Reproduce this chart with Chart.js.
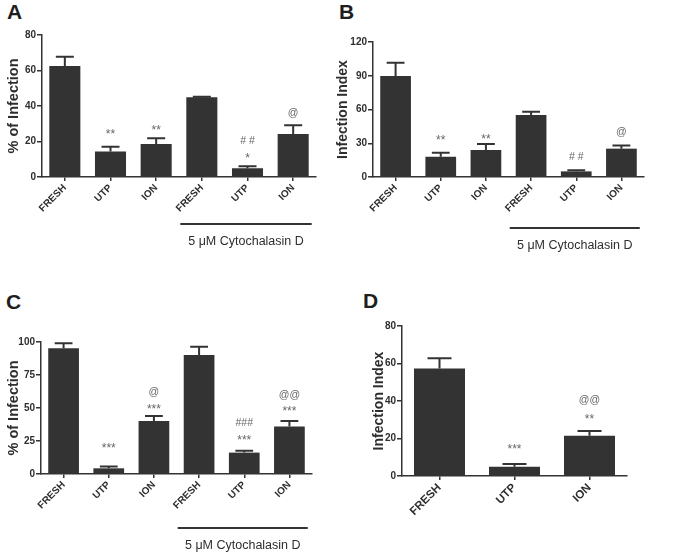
<!DOCTYPE html>
<html>
<head>
<meta charset="utf-8">
<title>Infection panels</title>
<script src="https://cdn.jsdelivr.net/npm/chart.js@4.4.1/dist/chart.umd.min.js"></script>
<style>
    body { margin: 0; width: 680px; height: 553px; position: relative; overflow: hidden; background: #fff; font-family: "Liberation Sans", Arial, sans-serif; }
    canvas { position: absolute; }
    .panel-letter { position: absolute; font-size: 21px; font-weight: bold; line-height: 21px; color: #1e1e1e; }
</style>
</head>
<body>
<div class="panel-letter" style="left:7px;top:1px">A</div>
<div class="panel-letter" style="left:339px;top:1px">B</div>
<div class="panel-letter" style="left:6px;top:291px">C</div>
<div class="panel-letter" style="left:363px;top:290px">D</div>

<canvas id="chart-a" width="335" height="235" style="left:0;top:20px"></canvas>
<canvas id="chart-b" width="350" height="235" style="left:330px;top:20px"></canvas>
<canvas id="chart-c" width="335" height="253" style="left:0;top:300px"></canvas>
<canvas id="chart-d" width="340" height="253" style="left:340px;top:300px"></canvas>

<script>
// categories
var groupsCyto = ['FRESH', 'UTP', 'ION', 'FRESH', 'UTP', 'ION'];
var groupsPlain = ['FRESH', 'UTP', 'ION'];

// A - % of infection (mean, mean + SEM)
var pctA = [62.5, 14.3, 18.6, 44.9, 4.9, 24.2];
var pctTopA = [67.8, 17.1, 21.8, 45.2, 6.0, 29.1];
var ticksA = [0, 20, 40, 60, 80];

// B - infection index
var idxB = [89.8, 18, 24, 55.1, 5, 25.2];
var idxTopB = [101.6, 21.6, 29.3, 58, 5.9, 28.1];
var ticksB = [0, 30, 60, 90, 120];

// C - % of infection
var pctC = [95.2, 4.3, 40.2, 90.2, 16.2, 35.9];
var pctTopC = [99, 5.6, 43.9, 96.4, 17.7, 40.2];
var ticksC = [0, 25, 50, 75, 100];

// D - infection index
var idxD = [57.4, 5, 21.5];
var idxTopD = [62.8, 6.4, 24];
var ticksD = [0, 20, 40, 60, 80];

// significance marks: [text, height in axis units] for each bar
var marksA = [[], [['**', 25.9]], [['**', 28.2]], [], [['# #', 20.3], ['*', 12.4]], [['@', 36.1]]];
var marksB = [[], [['**', 35.6]], [['**', 35.8]], [], [['# #', 17.8]], [['@', 40]]];
var marksC = [[], [['***', 22]], [['@', 62], ['***', 51.5]], [], [['###', 38.6], ['***', 28]], [['@@', 60], ['***', 50]]];
var marksD = [[], [['***', 16]], [['@@', 40.5], ['**', 32]]];

var bracketText = '5 \u03bcM Cytochalasin D';

(function() {
    'use strict';

    var BAR_COLOR = '#333333';
    var AXIS_COLOR = '#333333';
    var TEXT_COLOR = '#2e2e2e';
    var MARK_COLOR = '#666666';
    var FONT = '"Liberation Sans", Arial, sans-serif';

    Chart.defaults.font.family = FONT;

    /**
     * Error bars, significance marks and the treatment bracket
     */
    function makeOverlay(p) {
        return {
            id: 'overlay-' + p.id,
            afterDatasetsDraw: function(chart) {
                var ctx = chart.ctx;
                var bars = chart.getDatasetMeta(0).data;
                var yScale = chart.scales.y;

                ctx.save();
                ctx.strokeStyle = BAR_COLOR;
                ctx.lineWidth = 2;
                bars.forEach(function(bar, i) {
                    var yTop = yScale.getPixelForValue(p.tops[i]);
                    var half = Math.min(bar.width * 0.58, 24) / 2;
                    ctx.beginPath();
                    ctx.moveTo(bar.x, bar.y);
                    ctx.lineTo(bar.x, yTop);
                    ctx.moveTo(bar.x - half, yTop);
                    ctx.lineTo(bar.x + half, yTop);
                    ctx.stroke();
                });

                // significance marks
                ctx.fillStyle = MARK_COLOR;
                ctx.textAlign = 'center';
                ctx.textBaseline = 'middle';
                bars.forEach(function(bar, i) {
                    (p.marks[i] || []).forEach(function(m) {
                        var y = yScale.getPixelForValue(m[1]);
                        var star = m[0].charAt(0) === '*';
                        var size = star ? 12 : 10.5;
                        ctx.font = size + 'px ' + FONT;
                        ctx.fillText(m[0], bar.x, y + (star ? size * 0.28 : 0));
                    });
                });

                // bracket under the cytochalasin groups
                if (p.bracketY) {
                    var first = bars[3], last = bars[5];
                    var x0 = first.x - first.width / 2 - 6;
                    var x1 = last.x + last.width / 2 + 3;
                    ctx.strokeStyle = AXIS_COLOR;
                    ctx.lineWidth = 2;
                    ctx.beginPath();
                    ctx.moveTo(x0, p.bracketY);
                    ctx.lineTo(x1, p.bracketY);
                    ctx.stroke();

                    ctx.fillStyle = TEXT_COLOR;
                    ctx.font = '12.5px ' + FONT;
                    ctx.fillText(bracketText, (x0 + x1) / 2, p.bracketY + 18);
                }
                ctx.restore();
            }
        };
    }

    /**
     * Build one panel
     */
    function buildPanel(p) {
        var canvas = document.getElementById(p.id);
        var W = canvas.width, H = canvas.height;
        var padLeft = p.titleCenter - p.titleSize * 0.6;

        new Chart(canvas, {
            type: 'bar',
            data: {
                labels: p.labels,
                datasets: [{
                    data: p.values,
                    backgroundColor: BAR_COLOR,
                    borderWidth: 0,
                    barPercentage: 0.68,
                    categoryPercentage: 1
                }]
            },
            options: {
                responsive: false,
                animation: false,
                layout: {
                    padding: { left: padLeft, top: p.area.top, right: W - p.area.right, bottom: 0 }
                },
                plugins: {
                    legend: { display: false },
                    tooltip: { enabled: false }
                },
                scales: {
                    x: {
                        offset: true,
                        grid: { offset: false, drawOnChartArea: false, tickLength: 4, color: AXIS_COLOR, lineWidth: 1.5 },
                        border: { color: AXIS_COLOR, width: 1.5 },
                        ticks: {
                            minRotation: 45,
                            maxRotation: 45,
                            padding: 1,
                            color: TEXT_COLOR,
                            font: { size: p.xFont, weight: 'bold' }
                        },
                        afterFit: function(scale) {
                            scale.height = H - p.area.bottom;
                        }
                    },
                    y: {
                        min: 0,
                        max: p.ticks[p.ticks.length - 1],
                        afterBuildTicks: function(scale) {
                            scale.ticks = p.ticks.map(function(v) { return { value: v }; });
                        },
                        grid: { drawOnChartArea: false, tickLength: 5, color: AXIS_COLOR, lineWidth: 1.5 },
                        border: { color: AXIS_COLOR, width: 1.5 },
                        ticks: {
                            padding: 1,
                            color: TEXT_COLOR,
                            font: { size: 10, weight: 'bold' }
                        },
                        title: {
                            display: true,
                            text: p.yTitle,
                            color: TEXT_COLOR,
                            padding: 0,
                            font: { size: p.titleSize, weight: 'bold' }
                        },
                        afterFit: function(scale) {
                            scale.width = p.area.left - padLeft;
                        }
                    }
                }
            },
            plugins: [makeOverlay(p)]
        });
    }

    // Initialize
    buildPanel({
        id: 'chart-a', labels: groupsCyto, values: pctA, tops: pctTopA, ticks: ticksA, marks: marksA,
        yTitle: '% of Infection', titleSize: 14.5, titleCenter: 14, xFont: 10,
        area: { left: 42, top: 15, right: 316, bottom: 157 }, bracketY: 204
    });
    buildPanel({
        id: 'chart-b', labels: groupsCyto, values: idxB, tops: idxTopB, ticks: ticksB, marks: marksB,
        yTitle: 'Infection Index', titleSize: 14, titleCenter: 13, xFont: 10,
        area: { left: 43, top: 22, right: 314, bottom: 157 }, bracketY: 208
    });
    buildPanel({
        id: 'chart-c', labels: groupsCyto, values: pctC, tops: pctTopC, ticks: ticksC, marks: marksC,
        yTitle: '% of Infection', titleSize: 14.5, titleCenter: 14, xFont: 10,
        area: { left: 41, top: 42, right: 312, bottom: 174 }, bracketY: 228
    });
    buildPanel({
        id: 'chart-d', labels: groupsPlain, values: idxD, tops: idxTopD, ticks: ticksD, marks: marksD,
        yTitle: 'Infection Index', titleSize: 14, titleCenter: 39, xFont: 11.5,
        area: { left: 62, top: 26, right: 287, bottom: 176 }, bracketY: null
    });
})();
</script>
</body>
</html>
